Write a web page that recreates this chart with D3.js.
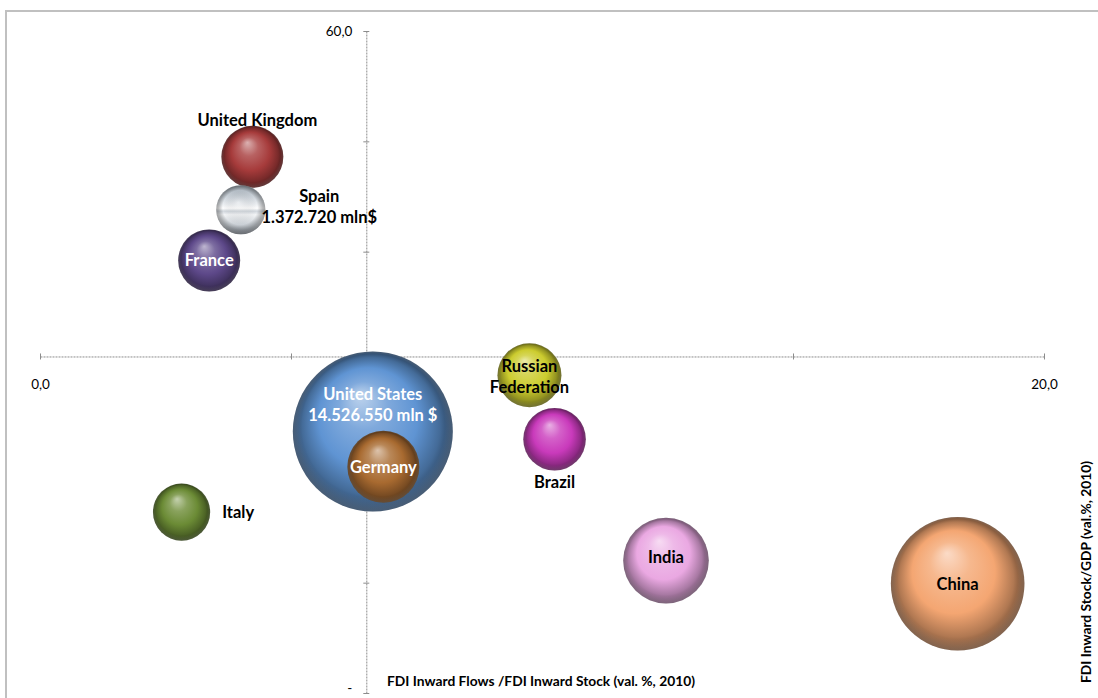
<!DOCTYPE html>
<html>
<head>
<meta charset="utf-8">
<script src="https://cdn.jsdelivr.net/npm/d3@7"></script>
<style>
  body { margin: 0; background: #fff; }
  svg text { font-family: Lato, "Open Sans", sans-serif; }
  .axis .domain { stroke: #8c8c8c; stroke-dasharray: 2,1; }
  .axis .tick line { stroke: #8c8c8c; }
  .axis .tick text { font-size: 13.5px; fill: #000; }
  .bubble-label { font-weight: bold; font-size: 16.5px; }
  .axis-title { font-weight: bold; font-size: 13.8px; }
</style>
</head>
<body>
<svg id="bubble-chart" width="1098" height="698"></svg>
<script>
"use strict";

//Chart data
var countries = ["Italy", "France", "United Kingdom", "Spain", "United States",
  "Germany", "Russian Federation", "Brazil", "India", "China"];

//FDI Inward Flows / FDI Inward Stock (val. %, 2010)
var flowsOnStock = [2.82, 3.37, 4.23, 4.00, 6.63, 6.84, 9.75, 10.25, 12.47, 18.28];

//FDI Inward Stock / GDP (val. %, 2010)
var stockOnGdp = [16.4, 39.2, 48.6, 43.8, 23.7, 20.5, 28.8, 23.0, 12.0, 9.9];

//GDP, mln $ (bubble size)
var gdpMln = [1857000, 2180000, 2180000, 1372720, 14526550, 2940000, 2320000, 2220000, 4160000, 10130000];

//Axis settings
var xTicks = [0, 5, 10, 15, 20];
var xTickLabels = ["0,0", "", "", "", "20,0"];
var yTicks = [0, 10, 20, 30, 40, 50, 60];
var yTickLabels = ["-", "", "", "", "", "", "60,0"];
var verticalAxisCrossesAt = 6.5;
var horizontalAxisCrossesAt = 30.5;

var xTitle = "FDI Inward Flows /FDI Inward Stock (val. %, 2010)";
var yTitle = "FDI Inward Stock/GDP (val.%, 2010)";

//Bubble colours
var colors = {
  "Italy": "#6b8b35",
  "France": "#5d4889",
  "United Kingdom": "#a63b3b",
  "Spain": "#c5ccd4",
  "United States": "#5f94d3",
  "Germany": "#a86a30",
  "Russian Federation": "#cccc2e",
  "Brazil": "#c93abb",
  "India": "#eaa8e2",
  "China": "#f4a672"
};

//Where each label sits relative to its bubble
var labelPlace = {
  "Italy": {pos: "right", dx: 12, color: "#000"},
  "France": {pos: "center", color: "#fff"},
  "United Kingdom": {pos: "above", dx: 5, dy: 3, color: "#000"},
  "Spain": {pos: "right", dx: -4, dy: -3, value: " mln$", color: "#000"},
  "United States": {pos: "center", dy: -27, value: " mln $", color: "#fff"},
  "Germany": {pos: "center", color: "#fff"},
  "Russian Federation": {pos: "center", split: true, dy: 1, color: "#000"},
  "Brazil": {pos: "below", color: "#000"},
  "India": {pos: "center", dy: -4, color: "#000"},
  "China": {pos: "center", color: "#000"}
};

var numFormat = d3.formatLocale({decimal: ",", thousands: ".", grouping: [3], currency: ["", "$"]}).format(",");

var data = countries.map(function(name, i) {
  return {name: name, x: flowsOnStock[i], y: stockOnGdp[i], size: gdpMln[i]};
});

var svg = d3.select("#bubble-chart");

//Scales
var x = d3.scaleLinear().domain([0, 20]).range([40, 1044]);
var y = d3.scaleLinear().domain([0, 60]).range([693, 31]);
var r = d3.scaleSqrt().domain([0, d3.max(gdpMln)]).range([0, 80]);

//Chart border
svg.append("rect")
  .attr("x", 6).attr("y", 11)
  .attr("width", 1200).attr("height", 800)
  .attr("fill", "none")
  .attr("stroke", "#c0c0c0")
  .attr("stroke-width", 2);

var defs = svg.append("defs");

//3D sphere look: radial highlight + dark rim
function sphereGradient(id, base) {
  var light = d3.interpolateRgb(base, "#fff");
  var dark = d3.interpolateRgb(base, "#000");
  var g = defs.append("radialGradient").attr("id", id)
    .attr("cx", "50%").attr("cy", "50%").attr("r", "50%")
    .attr("fx", "42%").attr("fy", "27%");
  g.append("stop").attr("offset", "0%").attr("stop-color", light(0.6));
  g.append("stop").attr("offset", "30%").attr("stop-color", light(0.2));
  g.append("stop").attr("offset", "62%").attr("stop-color", base);
  g.append("stop").attr("offset", "86%").attr("stop-color", dark(0.28));
  g.append("stop").attr("offset", "100%").attr("stop-color", dark(0.55));
}

function silverGradient(id) {
  var g = defs.append("linearGradient").attr("id", id)
    .attr("x1", 0).attr("y1", 0).attr("x2", 0).attr("y2", 1);
  [["0%", "#9ea8b2"], ["25%", "#cfd6dd"], ["40%", "#eef1f4"], ["47%", "#ffffff"],
   ["53%", "#d2d8de"], ["60%", "#f3f5f7"], ["82%", "#c6ccd2"], ["100%", "#8b939c"]].forEach(function(s) {
    g.append("stop").attr("offset", s[0]).attr("stop-color", s[1]);
  });
  var v = defs.append("radialGradient").attr("id", id + "-shade")
    .attr("cx", "50%").attr("cy", "50%").attr("r", "50%")
    .attr("fx", "45%").attr("fy", "35%");
  v.append("stop").attr("offset", "0%").attr("stop-color", "#fff").attr("stop-opacity", 0.2);
  v.append("stop").attr("offset", "70%").attr("stop-color", "#000").attr("stop-opacity", 0);
  v.append("stop").attr("offset", "100%").attr("stop-color", "#000").attr("stop-opacity", 0.4);
}

//Bottom rim reflection shared by all bubbles
var rim = defs.append("radialGradient").attr("id", "rim")
  .attr("cx", "50%").attr("cy", "50%").attr("r", "50%")
  .attr("fx", "50%").attr("fy", "15%");
rim.append("stop").attr("offset", "0%").attr("stop-color", "#fff").attr("stop-opacity", 0);
rim.append("stop").attr("offset", "90%").attr("stop-color", "#fff").attr("stop-opacity", 0);
rim.append("stop").attr("offset", "100%").attr("stop-color", "#fff").attr("stop-opacity", 0.14);

data.forEach(function(d, i) {
  d.id = "g" + i;
  if (d.name === "Spain") silverGradient(d.id);
  else sphereGradient(d.id, colors[d.name]);
});

//Axes
var xAxis = svg.append("g")
  .attr("class", "axis axis--x")
  .attr("transform", "translate(0," + y(horizontalAxisCrossesAt) + ")")
  .call(d3.axisBottom(x)
    .tickValues(xTicks)
    .tickSize(3)
    .tickSizeOuter(0)
    .tickPadding(20)
    .tickFormat(function(d, i) { return xTickLabels[i]; }));
xAxis.selectAll(".tick line").attr("y1", -3);

var yAxis = svg.append("g")
  .attr("class", "axis axis--y")
  .attr("transform", "translate(" + x(verticalAxisCrossesAt) + ",0)")
  .call(d3.axisLeft(y)
    .tickValues(yTicks)
    .tickSize(3)
    .tickSizeOuter(0)
    .tickPadding(11)
    .tickFormat(function(d, i) { return yTickLabels[i]; }));
yAxis.selectAll(".tick line").attr("x1", 3);
//keep the bottom "-" label inside the picture
yAxis.selectAll(".tick text").filter(function(d) { return d === 0; }).attr("dy", "-0.05em");

//Bubbles
var bubble = svg.selectAll(".bubble")
  .data(data)
  .enter().append("g")
  .attr("class", "bubble");

bubble.append("circle")
  .attr("cx", function(d) { return x(d.x); })
  .attr("cy", function(d) { return y(d.y); })
  .attr("r", function(d) { return r(d.size); })
  .attr("fill", function(d) { return "url(#" + d.id + ")"; });

bubble.filter(function(d) { return d.name === "Spain"; })
  .append("circle")
  .attr("cx", function(d) { return x(d.x); })
  .attr("cy", function(d) { return y(d.y); })
  .attr("r", function(d) { return r(d.size); })
  .attr("fill", function(d) { return "url(#" + d.id + "-shade)"; });

bubble.append("circle")
  .attr("cx", function(d) { return x(d.x); })
  .attr("cy", function(d) { return y(d.y); })
  .attr("r", function(d) { return r(d.size); })
  .attr("fill", "url(#rim)");

//Labels
var lineHeight = 21;
var labels = svg.append("g").attr("class", "labels");

data.forEach(function(d) {
  var spec = labelPlace[d.name];
  var lines = spec.split ? d.name.split(" ") : [d.name];
  if (spec.value) lines.push(numFormat(d.size) + spec.value);

  var cx = x(d.x), cy = y(d.y), rad = r(d.size);
  var t = labels.append("text")
    .attr("class", "bubble-label")
    .attr("text-anchor", "middle")
    .attr("fill", spec.color);

  lines.forEach(function(line, i) {
    t.append("tspan").attr("x", 0).attr("y", i * lineHeight).text(line);
  });

  var widest = d3.max(t.selectAll("tspan").nodes(), function(n) { return n.getComputedTextLength(); });
  var block = (lines.length - 1) * lineHeight;
  var tx = cx, ty;
  if (spec.pos === "above") {
    tx = cx + (spec.dx || 0);
    ty = cy - rad - 3 - block;
  } else if (spec.pos === "below") {
    ty = cy + rad + 17;
  } else if (spec.pos === "right") {
    tx = cx + rad + (spec.dx || 0) + widest / 2;
    ty = cy - block / 2 + 6;
  } else {
    ty = cy - block / 2 + 6;
  }
  ty += spec.dy || 0;
  t.attr("transform", "translate(" + tx + "," + ty + ")");
});

//Axis titles
svg.append("text")
  .attr("class", "axis-title")
  .attr("x", 387)
  .attr("y", 686)
  .text(xTitle);

svg.append("text")
  .attr("class", "axis-title")
  .attr("text-anchor", "middle")
  .attr("transform", "translate(1091,572) rotate(-90)")
  .text(yTitle);
</script>
</body>
</html>
